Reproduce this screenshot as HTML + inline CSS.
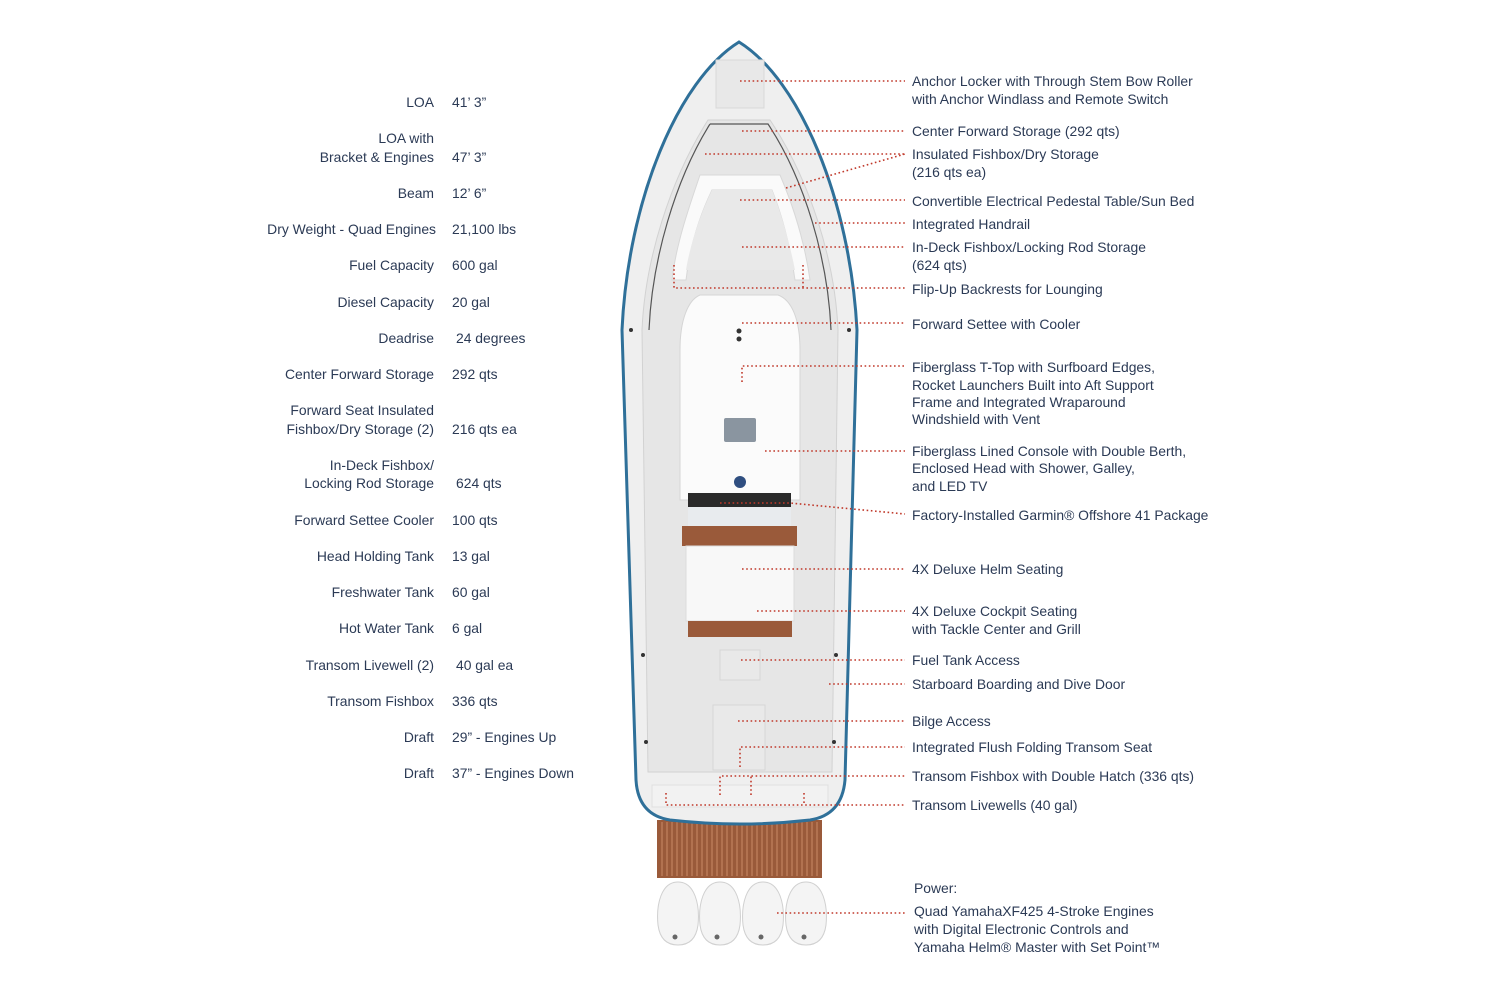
<!DOCTYPE html>
<html><head><meta charset="utf-8"><style>
body{margin:0;background:#fff;}
svg{display:block;font-family:"Liberation Sans",sans-serif;}
.t{font-size:13.9px;fill:#2b3a55;}
.l{stroke:#c0392b;stroke-width:1.6;stroke-dasharray:1.6 2.6;fill:none;}
</style></head><body>
<svg width="1500" height="999" viewBox="0 0 1500 999" xmlns="http://www.w3.org/2000/svg">
<g class="t" text-anchor="end">
<text x="434" y="107">LOA</text>
<text x="434" y="143">LOA with</text>
<text x="434" y="162">Bracket &amp; Engines</text>
<text x="434" y="198">Beam</text>
<text x="436" y="234">Dry Weight - Quad Engines</text>
<text x="434" y="270">Fuel Capacity</text>
<text x="434" y="307">Diesel Capacity</text>
<text x="434" y="343">Deadrise</text>
<text x="434" y="379">Center Forward Storage</text>
<text x="434" y="415">Forward Seat Insulated</text>
<text x="434" y="434">Fishbox/Dry Storage (2)</text>
<text x="434" y="470">In-Deck Fishbox/</text>
<text x="434" y="488">Locking Rod Storage</text>
<text x="434" y="525">Forward Settee Cooler</text>
<text x="434" y="561">Head Holding Tank</text>
<text x="434" y="597">Freshwater Tank</text>
<text x="434" y="633">Hot Water Tank</text>
<text x="434" y="670">Transom Livewell (2)</text>
<text x="434" y="706">Transom Fishbox</text>
<text x="434" y="742">Draft</text>
<text x="434" y="778">Draft</text>
</g>
<g class="t">
<text x="452" y="107">41’ 3”</text>
<text x="452" y="162">47’ 3”</text>
<text x="452" y="198">12’ 6”</text>
<text x="452" y="234">21,100 lbs</text>
<text x="452" y="270">600 gal</text>
<text x="452" y="307">20 gal</text>
<text x="456" y="343">24 degrees</text>
<text x="452" y="379">292 qts</text>
<text x="452" y="434">216 qts ea</text>
<text x="456" y="488">624 qts</text>
<text x="452" y="525">100 qts</text>
<text x="452" y="561">13 gal</text>
<text x="452" y="597">60 gal</text>
<text x="452" y="633">6 gal</text>
<text x="456" y="670">40 gal ea</text>
<text x="452" y="706">336 qts</text>
<text x="452" y="742">29” - Engines Up</text>
<text x="452" y="778">37” - Engines Down</text>
</g>
<g class="t">
<text x="912" y="86">Anchor Locker with Through Stem Bow Roller</text>
<text x="912" y="104">with Anchor Windlass and Remote Switch</text>
<text x="912" y="136">Center Forward Storage (292 qts)</text>
<text x="912" y="159">Insulated Fishbox/Dry Storage</text>
<text x="912" y="177">(216 qts ea)</text>
<text x="912" y="206">Convertible Electrical Pedestal Table/Sun Bed</text>
<text x="912" y="229">Integrated Handrail</text>
<text x="912" y="252">In-Deck Fishbox/Locking Rod Storage</text>
<text x="912" y="270">(624 qts)</text>
<text x="912" y="294">Flip-Up Backrests for Lounging</text>
<text x="912" y="329">Forward Settee with Cooler</text>
<text x="912" y="372">Fiberglass T-Top with Surfboard Edges,</text>
<text x="912" y="390">Rocket Launchers Built into Aft Support</text>
<text x="912" y="407">Frame and Integrated Wraparound</text>
<text x="912" y="424">Windshield with Vent</text>
<text x="912" y="456">Fiberglass Lined Console with Double Berth,</text>
<text x="912" y="473">Enclosed Head with Shower, Galley,</text>
<text x="912" y="491">and LED TV</text>
<text x="912" y="520">Factory-Installed Garmin® Offshore 41 Package</text>
<text x="912" y="574">4X Deluxe Helm Seating</text>
<text x="912" y="616">4X Deluxe Cockpit Seating</text>
<text x="912" y="634">with Tackle Center and Grill</text>
<text x="912" y="665">Fuel Tank Access</text>
<text x="912" y="689">Starboard Boarding and Dive Door</text>
<text x="912" y="726">Bilge Access</text>
<text x="912" y="752">Integrated Flush Folding Transom Seat</text>
<text x="912" y="781">Transom Fishbox with Double Hatch (336 qts)</text>
<text x="912" y="810">Transom Livewells (40 gal)</text>
<text x="914" y="893">Power:</text>
<text x="914" y="916">Quad YamahaXF425 4-Stroke Engines</text>
<text x="914" y="934">with Digital Electronic Controls and</text>
<text x="914" y="952">Yamaha Helm® Master with Set Point™</text>
</g>
<rect x="657" y="820" width="165" height="58" fill="#9a5a3a"/>
<g stroke="#c98a66" stroke-width="1">
<path d="M662 822V876M667 822V876M672 822V876M677 822V876M682 822V876M687 822V876M692 822V876M697 822V876M702 822V876M707 822V876M712 822V876M717 822V876M722 822V876M727 822V876M732 822V876M737 822V876M742 822V876M747 822V876M752 822V876M757 822V876M762 822V876M767 822V876M772 822V876M777 822V876M782 822V876M787 822V876M792 822V876M797 822V876M802 822V876M807 822V876M812 822V876M817 822V876"/>
</g>
<g fill="#f4f4f4" stroke="#d0d0d0">
<path d="M678 882 C695 882 700 905 698 925 C696 940 688 945 678 945 C668 945 660 940 658 925 C656 905 661 882 678 882Z"/>
<path d="M720 882 C737 882 742 905 740 925 C738 940 730 945 720 945 C710 945 702 940 700 925 C698 905 703 882 720 882Z"/>
<path d="M763 882 C780 882 785 905 783 925 C781 940 773 945 763 945 C753 945 745 940 743 925 C741 905 746 882 763 882Z"/>
<path d="M806 882 C823 882 828 905 826 925 C824 940 816 945 806 945 C796 945 788 940 786 925 C784 905 789 882 806 882Z"/>
</g>
<g fill="#666"><circle cx="675" cy="937" r="2.5"/><circle cx="717" cy="937" r="2.5"/><circle cx="761" cy="937" r="2.5"/><circle cx="804" cy="937" r="2.5"/></g>
<path d="M739 42 C800 80 850 200 857 330 L845 780 Q842 815 810 820 Q740 828 670 820 Q638 815 636 780 L622 330 C628 200 678 80 739 42Z" fill="#efefef" stroke="#2f7099" stroke-width="3"/>
<path d="M708 120 L770 120 C810 180 835 260 838 330 L832 772 L648 772 L642 330 C645 260 670 180 708 120Z" fill="#e6e6e6" stroke="#d2d2d2"/>
<path d="M710 124 L768 124 C805 180 828 260 831 330" fill="none" stroke="#555" stroke-width="1.2"/>
<path d="M710 124 C675 180 652 260 649 330" fill="none" stroke="#555" stroke-width="1.2"/>
<rect x="716" y="60" width="48" height="48" fill="#e8e8e8" stroke="#d8d8d8"/>
<path d="M700 175 L780 175 C795 210 805 245 810 280 L795 280 C790 245 782 215 772 190 L712 190 C700 215 690 245 686 280 L672 280 C676 245 688 210 700 175Z" fill="#fafafa" stroke="#d8d8d8"/>
<path d="M712 190 L772 190 C782 215 790 245 795 270 L686 270 C690 245 700 215 712 190Z" fill="#e9e9e9"/>
<path d="M700 295 L778 295 C792 300 800 320 800 350 L800 500 L680 500 L680 350 C680 320 688 300 700 295Z" fill="#fbfbfb" stroke="#d5d5d5"/>
<rect x="724" y="418" width="32" height="24" fill="#8a95a0" rx="2"/>
<circle cx="740" cy="482" r="6" fill="#2f4e80"/>
<rect x="688" y="493" width="103" height="14" fill="#2a2a2a"/>
<rect x="688" y="507" width="103" height="20" fill="#e8ebee"/>
<rect x="682" y="526" width="115" height="20" fill="#9a5a3a"/>
<rect x="686" y="546" width="108" height="75" fill="#f8f8f8" stroke="#dcdcdc"/>
<rect x="688" y="621" width="104" height="16" fill="#9a5a3a"/>
<rect x="720" y="650" width="40" height="30" fill="#e9e9e9" stroke="#d6d6d6"/>
<rect x="713" y="705" width="52" height="65" fill="#e9e9e9" stroke="#d6d6d6"/>
<rect x="652" y="785" width="176" height="22" fill="#f2f2f2" stroke="#e0e0e0"/>
<g fill="#333"><circle cx="631" cy="330" r="2"/><circle cx="849" cy="330" r="2"/><circle cx="643" cy="655" r="2"/><circle cx="836" cy="655" r="2"/><circle cx="646" cy="742" r="2"/><circle cx="834" cy="742" r="2"/><circle cx="739" cy="331" r="2.5"/><circle cx="739" cy="339" r="2.5"/></g>
<g class="l">
<path d="M740 81H905"/>
<path d="M742 131H905"/>
<path d="M705 154H905"/>
<path d="M786 188L905 154"/>
<path d="M740 200H905"/>
<path d="M815 223H905"/>
<path d="M742 247H905"/>
<path d="M674 265V288H905M803 265V288"/>
<path d="M742 323H905"/>
<path d="M742 382V366H905"/>
<path d="M765 451H905"/>
<path d="M720 503L790 503L905 514"/>
<path d="M742 569H905"/>
<path d="M757 611H905"/>
<path d="M741 660H905"/>
<path d="M829 684H905"/>
<path d="M738 721H905"/>
<path d="M740 767V747H905"/>
<path d="M720 795V776H905M751 795V776"/>
<path d="M666 793V805H905M804 793V805"/>
<path d="M777 913H905"/>
</g>
</svg>
</body></html>
